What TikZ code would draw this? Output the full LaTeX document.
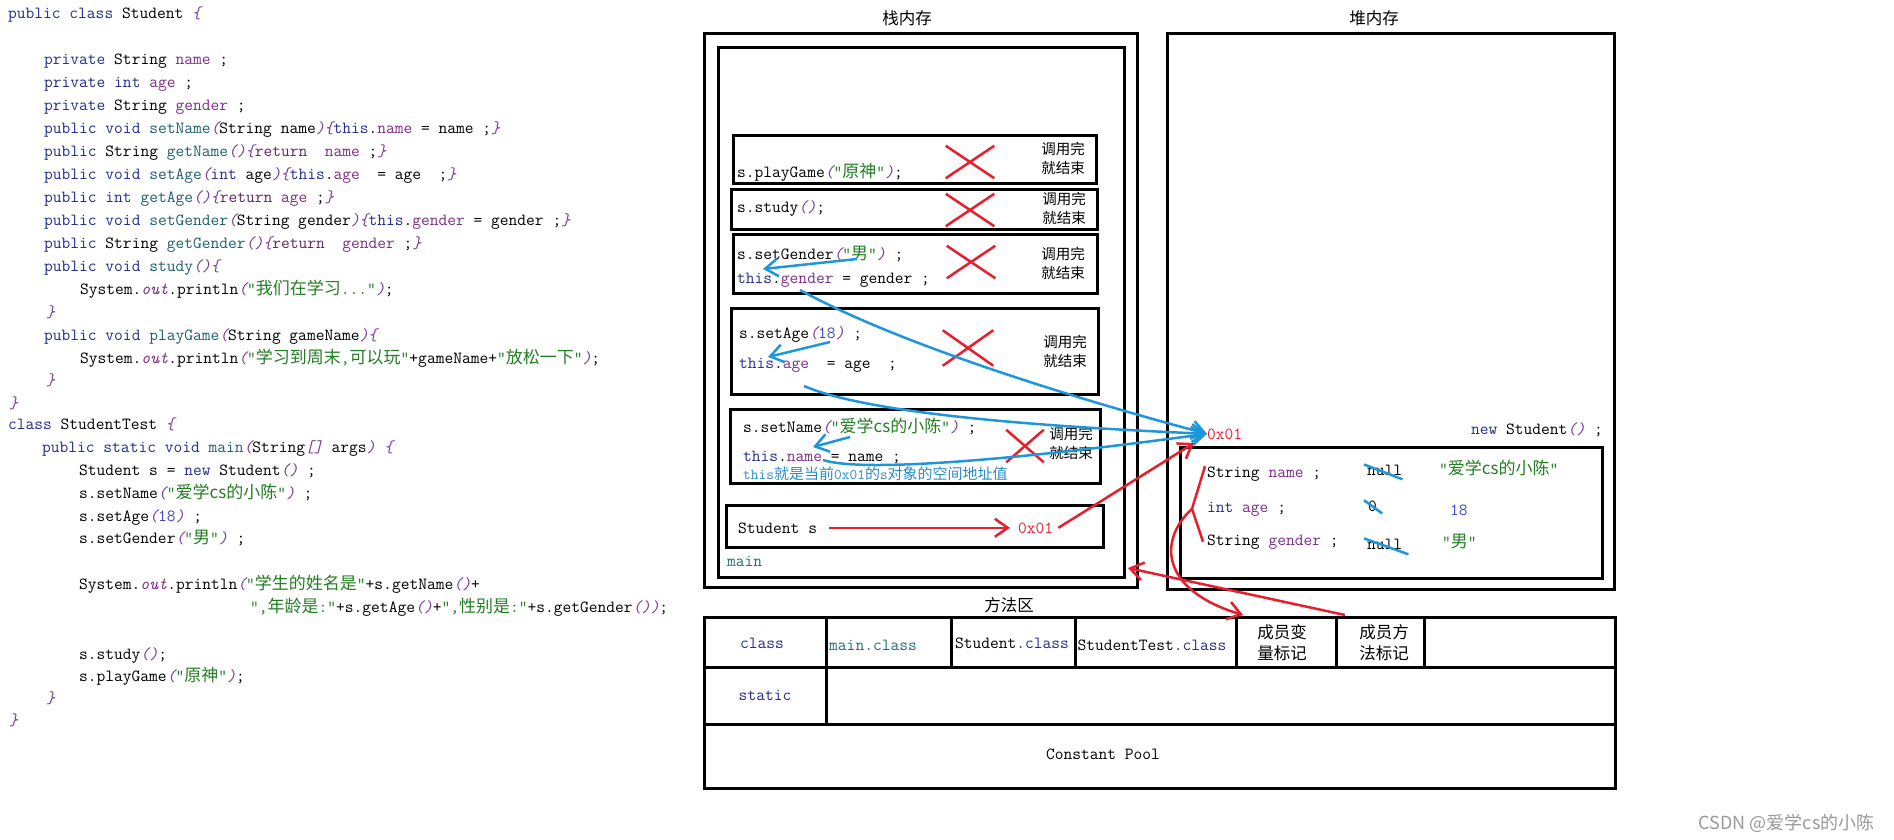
\documentclass[tikz,border=0pt]{standalone}
\usepackage{fontspec}
\usepackage{xcolor}
\usepackage{tikz}
\usetikzlibrary{shapes.misc,arrows.meta,positioning}

\newfontfamily\cjk{Noto Sans CJK SC}

\definecolor{kwc}{RGB}{35,45,140}
\definecolor{fnc}{RGB}{30,95,110}
\definecolor{fdc}{RGB}{125,45,135}
\definecolor{brc}{RGB}{120,60,150}
\definecolor{strc}{RGB}{35,125,35}
\definecolor{numc}{RGB}{60,70,190}
\definecolor{retc}{RGB}{100,35,100}
\definecolor{redc}{RGB}{230,30,45}
\definecolor{bluec}{RGB}{30,150,220}
\definecolor{notec}{RGB}{40,140,200}
\definecolor{mainc}{RGB}{30,110,120}

\newcommand\zh[1]{{\cjk #1}}
\newcommand\jkw[1]{\textcolor{kwc}{#1}}
\newcommand\jfn[1]{\textcolor{fnc}{#1}}
\newcommand\jfd[1]{\textcolor{fdc}{#1}}
\newcommand\jbk[1]{\textcolor{brc}{\itshape #1}}
\newcommand\jstr[1]{\textcolor{strc}{#1}}
\newcommand\jnum[1]{\textcolor{numc}{#1}}
\newcommand\jkr[1]{\textcolor{retc}{#1}}

\tikzset{
    code/.style={inner sep=0pt, anchor=base west},
    boxline/.style={line width=3pt},
    redx/.style={cross out, draw=redc, line width=2.5pt, minimum width=46pt, minimum height=30pt, inner sep=0pt},
    donelbl/.style={font=\cjk\fontsize{14.5}{19}\selectfont, align=center, inner sep=0pt},
    areatitle/.style={font=\cjk\fontsize{16.5}{18}\selectfont, inner sep=0pt},
    bluearrow/.style={draw=bluec, line width=2.5pt, -{Straight Barb[length=13pt,width=18pt]}},
    redarrow/.style={draw=redc, line width=2.5pt, -{Straight Barb[length=13pt,width=18pt]}},
    redline/.style={draw=redc, line width=2.5pt},
    nullstrike/.style={draw=bluec, line width=2.5pt},
}

\begin{document}
\begin{tikzpicture}[x=1pt,y=-1pt,font=\ttfamily\fontsize{17}{20}\selectfont]
    \useasboundingbox (0,0) rectangle (1894,839);

    % source code
    \node[code] (ln1) at (8,18) {\jkw{public class} Student \jbk{\{}};
    \node[code] (ln2) at (44,64) {\jkw{private} String \jfd{name} ;};
    \node[code] (ln3) at (44,87) {\jkw{private int} \jfd{age} ;};
    \node[code] (ln4) at (44,110) {\jkw{private} String \jfd{gender} ;};
    \node[code] (ln5) at (44,133) {\jkw{public void} \jfn{setName}\jbk{(}String name\jbk{)\{}\jkw{this}.\jfd{name} = name ;\jbk{\}}};
    \node[code] (ln6) at (44,156) {\jkw{public} String \jfn{getName}\jbk{()\{}\jkr{return}\ \ \jfd{name} ;\jbk{\}}};
    \node[code] (ln7) at (44,179) {\jkw{public void} \jfn{setAge}\jbk{(}\jkw{int} age\jbk{)\{}\jkw{this}.\jfd{age}\ \ = age\ \ ;\jbk{\}}};
    \node[code] (ln8) at (44,202) {\jkw{public int} \jfn{getAge}\jbk{()\{}\jkr{return} \jfd{age} ;\jbk{\}}};
    \node[code] (ln9) at (44,225) {\jkw{public void} \jfn{setGender}\jbk{(}String gender\jbk{)\{}\jkw{this}.\jfd{gender} = gender ;\jbk{\}}};
    \node[code] (ln10) at (44,248) {\jkw{public} String \jfn{getGender}\jbk{()\{}\jkr{return}\ \ \jfd{gender} ;\jbk{\}}};
    \node[code] (ln11) at (44,271) {\jkw{public void} \jfn{study}\jbk{()\{}};
    \node[code] (ln12) at (80,294) {System.\jbk{\jfd{out}}.println\jbk{(}\jstr{“\zh{我们在学习}...”}\jbk{)};};
    \node[code] (ln13) at (46,317) {\jbk{\}}};
    \node[code] (ln14) at (44,340) {\jkw{public void} \jfn{playGame}\jbk{(}String gameName\jbk{)\{}};
    \node[code] (ln15) at (80,363) {System.\jbk{\jfd{out}}.println\jbk{(}\jstr{“\zh{学习到周末},\zh{可以玩}”}+gameName+\jstr{“\zh{放松一下}”}\jbk{)};};
    \node[code] (ln16) at (46,385) {\jbk{\}}};
    \node[code] (ln17) at (9,408) {\jbk{\}}};
    \node[code] (ln18) at (8,429) {\jkw{class} StudentTest \jbk{\{}};
    \node[code] (ln19) at (42,452) {\jkw{public static void} \jfn{main}\jbk{(}String\jbk{[]} args\jbk{)} \jbk{\{}};
    \node[code] (ln20) at (79,475) {Student s = \jkw{new} Student\jbk{()} ;};
    \node[code] (ln21) at (79,498) {s.setName\jbk{(}\jstr{“\zh{爱学cs的小陈}”}\jbk{)} ;};
    \node[code] (ln22) at (79,521) {s.setAge\jbk{(}\jnum{18}\jbk{)} ;};
    \node[code] (ln23) at (79,543) {s.setGender\jbk{(}\jstr{“\zh{男}”}\jbk{)} ;};
    \node[code] (ln24) at (79,589) {System.\jbk{\jfd{out}}.println\jbk{(}\jstr{“\zh{学生的姓名是}”}+s.getName\jbk{()}+};
    \node[code] (ln25) at (250,612) {\jstr{”,\zh{年龄是}:”}+s.getAge\jbk{()}+\jstr{”,\zh{性别是}:”}+s.getGender\jbk{())};};
    \node[code] (ln26) at (79,659) {s.study\jbk{()};};
    \node[code] (ln27) at (79,681) {s.playGame\jbk{(}\jstr{“\zh{原神}”}\jbk{)};};
    \node[code] (ln28) at (46,703) {\jbk{\}}};
    \node[code] (ln29) at (9,725) {\jbk{\}}};

    % stack
    \node[areatitle] (tStack) at (907,18) {栈内存};
    \draw[boxline] (704,33) rectangle (1137,587);
    \draw[boxline] (718,47) rectangle (1124,577);

    \draw[boxline] (733,135) rectangle (1096,183);
    \draw[boxline] (731,189) rectangle (1097,229);
    \draw[boxline] (733,234) rectangle (1097,293);
    \draw[boxline] (731,308) rectangle (1098,394);
    \draw[boxline] (730,409) rectangle (1100,483);
    \draw[boxline] (726,505) rectangle (1103,547);

    \node[code] (pg) at (737,177) {s.playGame\jbk{(}\jstr{“\zh{原神}”}\jbk{)};};
    \node[code] (sy) at (737,212) {s.study\jbk{()};};
    \node[code] (sgA) at (737,259) {s.setGender\jbk{(}\jstr{“\zh{男}”}\jbk{)} ;};
    \node[code] (sgB) at (737,283) {\jkw{this}.\jfd{gender} = gender ;};
    \node[code] (saA) at (739,338) {s.setAge\jbk{(}\jnum{18}\jbk{)} ;};
    \node[code] (saB) at (739,368) {\jkw{this}.\jfd{age}\ \ = age\ \ ;};
    \node[code] (snA) at (743,432) {s.setName\jbk{(}\jstr{“\zh{爱学cs的小陈}”}\jbk{)} ;};
    \node[code] (snB) at (743,461) {\jkw{this}.\jfd{name} = name ;};
    \node[code, text=notec, font=\ttfamily\fontsize{15}{16}\selectfont] (snNote) at (743,479) {this\zh{就是当前}0x01\zh{的}s\zh{对象的空间地址值}};
    \node[code] (sType) at (738,533) {Student s};
    \node[code, text=redc] (sAddr) at (1018,533) {0x01};
    \node[code, text=mainc] (mainLbl) at (727,566) {main};

    \node[donelbl] (d1) at (1063,158) {调用完\\就结束};
    \node[donelbl] (d2) at (1064,208) {调用完\\就结束};
    \node[donelbl] (d3) at (1063,263) {调用完\\就结束};
    \node[donelbl] (d4) at (1065,351) {调用完\\就结束};
    \node[donelbl] (d5) at (1071,443) {调用完\\就结束};

    \node[redx] (x1) at (970,162) {};
    \node[redx] (x2) at (970,210) {};
    \node[redx] (x3) at (971,262) {};
    \node[redx, minimum width=48pt, minimum height=33pt] (x4) at (968,348) {};
    \node[redx, minimum width=35pt, minimum height=30pt] (x5) at (1025,446) {};

    % heap
    \node[areatitle] (tHeap) at (1374,18) {堆内存};
    \draw[boxline] (1167,33) rectangle (1614,589);
    \draw[boxline] (1180,447) rectangle (1602,578);

    \node[code, text=redc] (hAddr) at (1207,439) {0x01};
    \node[code, anchor=base east] (hNew) at (1603,434) {\jkw{new} Student\jbk{()} ;};
    \node[code] (hName) at (1207,477) {String \jfd{name} ;};
    \node[code] (hAge) at (1207,512) {\jkw{int} \jfd{age} ;};
    \node[code] (hGen) at (1207,545) {String \jfd{gender} ;};
    \node[code] (null1) at (1367,475) {null};
    \node[code] (zero) at (1368,511) {0};
    \node[code] (null2) at (1367,549) {null};
    \node[code] (vName) at (1439,474) {\jstr{“\zh{爱学cs的小陈}”}};
    \node[code] (vAge) at (1450,515) {\jnum{18}};
    \node[code] (vGen) at (1442,547) {\jstr{“\zh{男}”}};

    \draw[nullstrike] ([xshift=-3pt]null1.north west) -- ([yshift=-4pt]null1.south east);
    \draw[nullstrike] ([xshift=-4pt]zero.north west) -- ([xshift=5pt,yshift=-2pt]zero.south east);
    \draw[nullstrike] ([xshift=-3pt]null2.north west) -- ([xshift=6pt,yshift=-5pt]null2.south east);

    % method area
    \node[areatitle] (tMethod) at (1009,605) {方法区};
    \draw[boxline] (704,617) rectangle (1615,788);
    \draw[boxline] (704,667) -- (1615,667);
    \draw[boxline] (704,724) -- (1615,724);
    \draw[boxline] (826,617) -- (826,724);
    \draw[boxline] (951,617) -- (951,669);
    \draw[boxline] (1075,617) -- (1075,667);
    \draw[boxline] (1236,617) -- (1236,667);
    \draw[boxline] (1336,617) -- (1336,667);
    \draw[boxline] (1424,617) -- (1424,667);

    \node[text=kwc] (cClass) at (762,643) {class};
    \node[text=mainc] (cMain) at (873,645) {main.class};
    \node (cStu) at (1012,643) {Student\jkw{.class}};
    \node (cStuT) at (1152,645) {StudentTest\jkw{.class}};
    \node[donelbl, font=\cjk\fontsize{16.5}{21}\selectfont] (cVar) at (1282,643) {成员变\\量标记};
    \node[donelbl, font=\cjk\fontsize{16.5}{21}\selectfont] (cMeth) at (1384,643) {成员方\\法标记};
    \node[text=kwc] (cStatic) at (765,695) {static};
    \node (cPool) at (1103,754) {Constant Pool};

    % references
    \coordinate (argGen) at (857,259);
    \coordinate (thisGen) at (763,269);
    \coordinate (argAge) at (830,342);
    \coordinate (thisAge) at (768,357);
    \coordinate (argName) at (850,437);
    \coordinate (thisName) at (813,447);
    \coordinate (genOut) at (800,290);
    \coordinate (ageOut) at (804,386);
    \coordinate (nameOut) at (823,460);
    \coordinate (objIn) at (1194,443);
    \coordinate (varCell) at (1243,615);
    \coordinate (methCell) at (1345,615);
    \coordinate (stackEnd) at (1128,568);

    \draw[bluearrow] (argGen) -- (thisGen);
    \draw[bluearrow] (argAge) -- (thisAge);
    \draw[bluearrow] (argName) -- (thisName);
    \draw[bluearrow] (genOut) .. controls (900,345) and (1080,400) .. (hAddr.west);
    \draw[bluearrow] (ageOut) .. controls (860,410) and (1000,425) .. (hAddr.west);
    \draw[bluearrow] (nameOut) .. controls (860,472) and (1000,462) .. (hAddr.west);

    \draw[redarrow] ([xshift=12pt]sType.east) -- ([xshift=-8pt]sAddr.west);
    \draw[redarrow] ([xshift=5pt]sAddr.east) -- (objIn);
    \draw[redline] ([xshift=-2pt]hName.north west) -- ([xshift=-15pt]hAge.west) -- ([xshift=-4pt]hGen.west);
    \draw[redarrow] ([xshift=-15pt]hAge.west) .. controls (1158,540) and (1160,590) .. (varCell);
    \draw[redarrow] (methCell) -- (stackEnd);

    \node[anchor=base east, text=gray!80, font=\cjk\fontsize{18}{20}\selectfont] (wm) at (1878,829) {CSDN @爱学cs的小陈};
\end{tikzpicture}
\end{document}
